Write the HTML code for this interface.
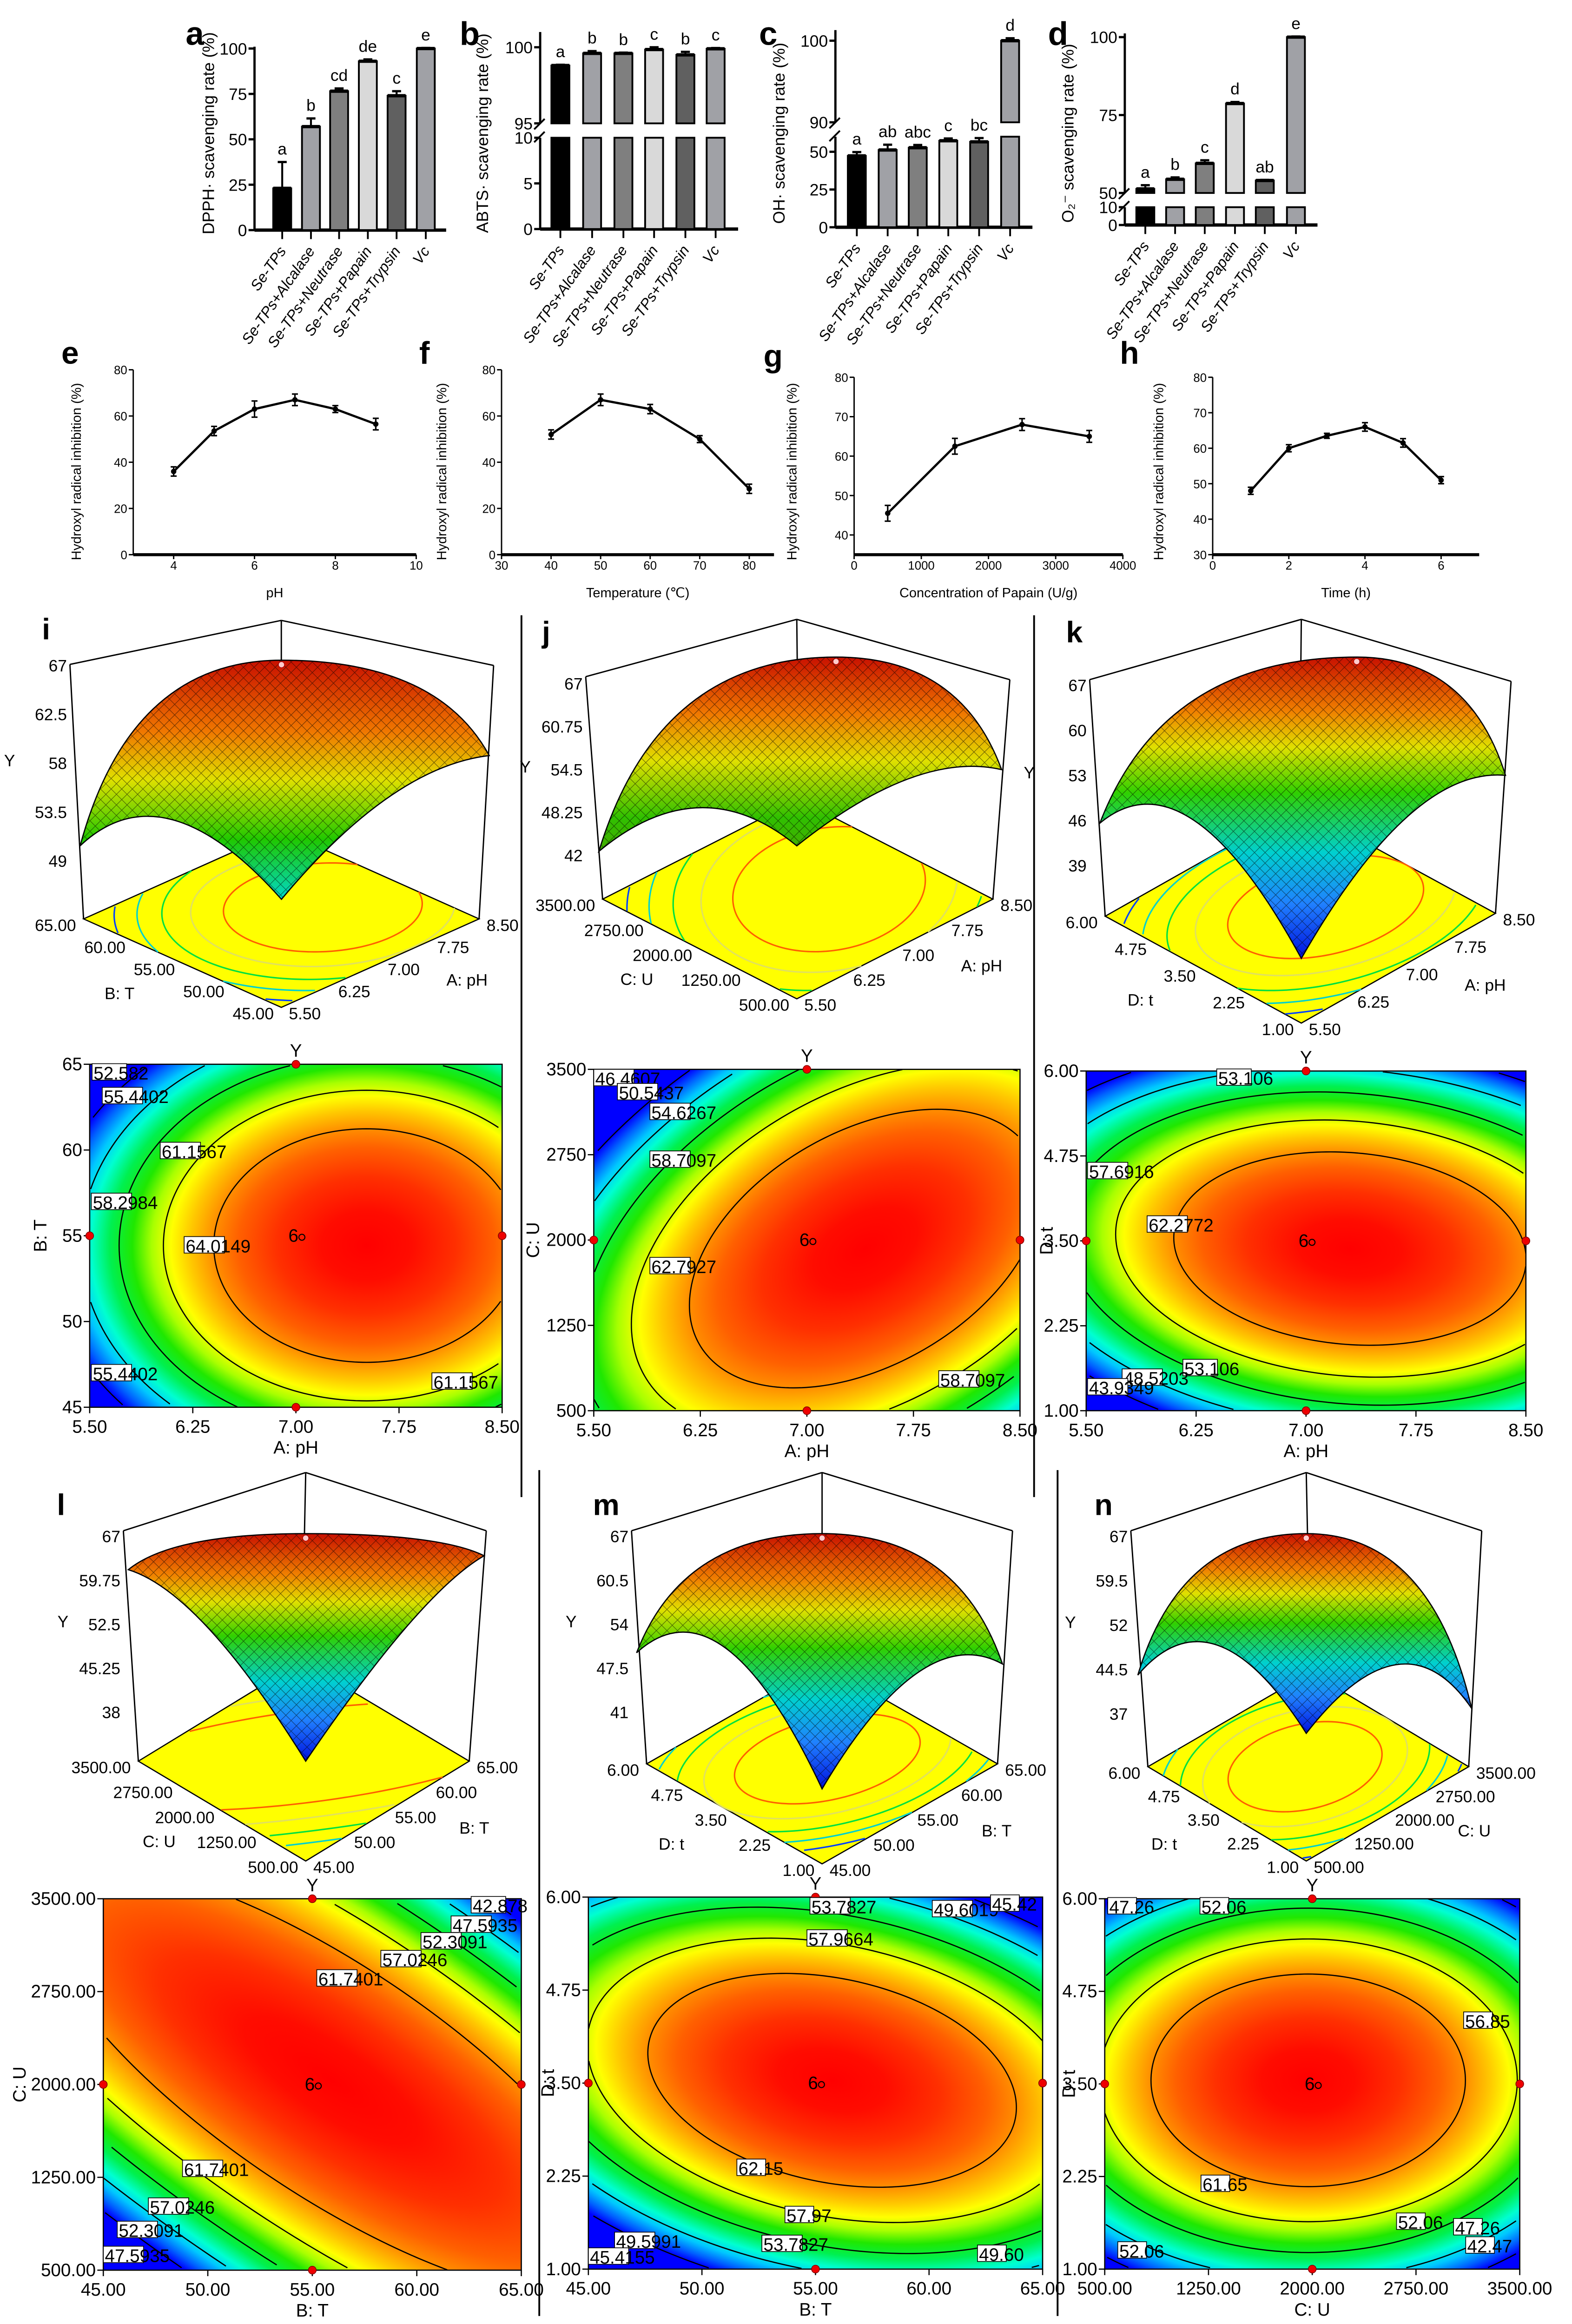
<!DOCTYPE html>
<html><head><meta charset="utf-8"><style>
html,body{margin:0;padding:0;background:#fff;overflow:hidden;width:3382px;height:5023px}
svg{display:block}
text{font-family:"Liberation Sans",sans-serif}
</style></head><body>
<svg id="fig" xmlns="http://www.w3.org/2000/svg" width="3382" height="5023" viewBox="0 0 1050 1559.5" preserveAspectRatio="none" overflow="hidden">
<defs>
<pattern id="mesh" width="5" height="5" patternUnits="userSpaceOnUse" patternTransform="rotate(45)"><path d="M0 0H5M0 0V5" stroke="#000" stroke-opacity="0.55" stroke-width="0.7" fill="none"/></pattern>
</defs>
</svg>
<script>
const barCategories=['Se-TPs','Se-TPs+Alcalase','Se-TPs+Neutrase','Se-TPs+Papain','Se-TPs+Trypsin','Vc'];
const dpphValues=[23,57,76.5,93,74,100];
const dpphErrors=[14.5,4.5,1.5,1,2.5,0.3];
const dpphLetters=['a','b','cd','de','c','e'];
const abtsValues=[98.8,99.6,99.6,99.85,99.5,99.9];
const abtsErrors=[0.05,0.15,0.05,0.15,0.2,0.05];
const abtsLetters=['a','b','b','c','b','c'];
const ohValues=[47.3,51.2,52.7,57.3,56.6,100];
const ohErrors=[2.5,3.5,1.8,1.5,2.5,0.3];
const ohLetters=['a','ab','abc','c','bc','d'];
const o2Values=[51.3,54.4,59.5,78.7,54,100];
const o2Errors=[1.2,0.6,1,0.5,0.2,0.2];
const o2Letters=['a','b','c','d','ab','e'];
const phX=[4,5,6,7,8,9];
const phY=[36,53.5,63,67,63,56.5];
const phErr=[2,2,3.5,2.5,1.5,2.5];
const tempX=[40,50,60,70,80];
const tempY=[52,67,63,50,28.5];
const tempErr=[2,2.5,2,1.5,2];
const papainX=[500,1500,2500,3500];
const papainY=[45.5,62.5,68,65];
const papainErr=[2,2,1.5,1.5];
const timeX=[1,2,3,4,5,6];
const timeY=[48,60,63.5,66,61.5,51];
const timeErr=[1,1,0.7,1.2,1.2,1];
const contourLabelsI=['52.582','55.4402','61.1567','58.2984','64.0149','55.4402','61.1567'];
const contourLabelsJ=['46.4607','50.5437','54.6267','58.7097','62.7927','58.7097'];
const contourLabelsK=['53.106','57.6916','62.2772','53.106','48.5203','43.9349'];
const contourLabelsL=['42.878','47.5935','52.3091','57.0246','61.7401','61.7401','57.0246','52.3091','47.5935'];
const contourLabelsM=['53.7827','49.6019','45.42','57.9664','62.15','57.97','53.7827','49.5991','45.4155','49.60'];
const contourLabelsN=['47.26','52.06','56.85','61.65','52.06','47.26','42.47','52.06'];

const NS='http://www.w3.org/2000/svg';
const svg=document.getElementById('fig');
function mk(tag,attrs,parent,txt){const e=document.createElementNS(NS,tag);for(const k in attrs)e.setAttribute(k,attrs[k]);if(txt!==undefined)e.textContent=txt;(parent||svg).appendChild(e);return e;}
function grp(name){const g=mk('g',{});


return g;}
function label(g,x,y,s,size,opts){const t=mk('text',Object.assign({x:x,y:y,'font-size':size,fill:'#000'},opts||{}),g,s);


return t;}
function line(g,x1,y1,x2,y2,w,c){const l=mk('line',{x1:x1,y1:y1,x2:x2,y2:y2,stroke:c||'#000','stroke-width':w||1},g);


return l;}
/* ellipse outline clipped to a box, returned as path data; map converts (x,y)->screen */
function clippedEllipse(cx,cy,rx,ry,rotDeg,bx0,by0,bx1,by1,map){
 const a=rotDeg*Math.PI/180,ca=Math.cos(a),sa=Math.sin(a);let d='',pen=false;
 for(let i=0;i<=240;i++){const t=i/240*2*Math.PI;const ex=rx*Math.cos(t),ey=ry*Math.sin(t);
  const x=cx+ex*ca-ey*sa,y=cy+ex*sa+ey*ca;
  if(x>=bx0&&x<=bx1&&y>=by0&&y<=by1){const q=map(x,y);d+=(pen?'L':'M')+q[0].toFixed(2)+' '+q[1].toFixed(2);pen=true;}else pen=false;}
 return d;}

/* ---------- bar charts ---------- */
const barColors=['#000','#a0a1a6','#7f7f7f','#d9d9d9','#606060','#a0a1a6'];
function barChart(p,vals,errs,letters){
 const g=grp(p.name);
 function yv(v){for(const s of p.segs){if(v>=s.v0&&v<=s.v1)return s.p0+(v-s.v0)*(s.p1-s.p0)/(s.v1-s.v0);}
  let best=p.segs[0];for(const s of p.segs){if(v>s.v1)best=s;}return best.p1;}
 for(const s of p.segs){line(g,p.ax,s.p0,p.ax,s.p1,1.5);
  for(const t of s.ticks){const y=yv(t);line(g,p.ax-4,y,p.ax,y,1.5);label(g,p.ax-5,y+4,String(t),11,{'text-anchor':'end'});}}
 if(p.segs.length>1){const yb=p.segs[0].p1,yt=p.segs[1].p0;
  line(g,p.ax-4,yb+3,p.ax+3,yb-4,1.2);line(g,p.ax-4,yt+4,p.ax+3,yt-3,1.2);}
 line(g,p.ax,p.segs[0].p0,p.xe,p.segs[0].p0,2.2);
 label(g,p.lx,p.ly,p.letter,22,{'font-weight':'bold'});
 const yt=label(g,p.tx,89,p.title,11,{'text-anchor':'middle',transform:`rotate(-90 ${p.tx} 89)`});
 
 vals.forEach((v,i)=>{const cx=p.cx[i];
  p.segs.forEach((s,si)=>{if(v>s.v0){const top=Math.min(v,s.v1);const y1=yv(top);const y0=s.p0;
   const r=mk('rect',{x:cx-6,y:y1,width:12,height:Math.max(0,y0-y1),fill:barColors[i],stroke:'#000','stroke-width':1.2},g);
   
   
   if(v<=s.v1)line(g,cx-6,y1,cx+6,y1,2.2);}});
  const ye=yv(v+errs[i]);line(g,cx,yv(v),cx,ye,1.3);line(g,cx-3,ye,cx+3,ye,1.5);
  label(g,cx,ye-5,letters[i],11,{'text-anchor':'middle'});
  const y0=p.segs[0].p0;line(g,cx,y0,cx,y0+6,1.2);
  label(g,cx+3,y0+14,barCategories[i],10,{'text-anchor':'end','font-style':'italic',transform:`rotate(-55 ${cx+3} ${y0+14})`});
 });
}
barChart({name:'panel-a-dpph',ax:170,xe:298,cx:[188.5,207.7,226.5,245.7,264.9,284.4],segs:[{v0:0,v1:101,p0:153.7,p1:31.2,ticks:[0,25,50,75,100]}],letter:'a',lx:124,ly:30,tx:143,title:'DPPH· scavenging rate (%)'},dpphValues,dpphErrors,dpphLetters);
barChart({name:'panel-b-abts',ax:360.8,xe:493,cx:[374.3,395.5,416.4,436.9,457.8,478],segs:[{v0:0,v1:10,p0:153,p1:92,ticks:[0,5,10]},{v0:95,v1:101,p0:82.4,p1:21.4,ticks:[95,100]}],letter:'b',lx:307,ly:30,tx:326,title:'ABTS· scavenging rate (%)'},abtsValues,abtsErrors,abtsLetters);
barChart({name:'panel-c-oh',ax:558,xe:689.6,cx:[572.3,592.9,613,633.4,654,674.7],segs:[{v0:0,v1:60,p0:151.8,p1:91.3,ticks:[0,25,50]},{v0:90,v1:101.3,p0:81.7,p1:20.1,ticks:[90,100]}],letter:'c',lx:507,ly:30,tx:524,title:'OH· scavenging rate (%)'},ohValues,ohErrors,ohLetters);
barChart({name:'panel-d-o2',ax:751.3,xe:880,cx:[765,784.9,804.7,824.9,844.8,865.6],segs:[{v0:0,v1:10,p0:150.3,p1:138.4,ticks:[0,10]},{v0:50,v1:101.2,p0:128.9,p1:22.3,ticks:[50,75,100]}],letter:'d',lx:700,ly:30,tx:717,title:'O₂⁻ scavenging rate (%)'},o2Values,o2Errors,o2Letters);

/* ---------- line charts ---------- */
function lineChart(p,xs,ys,es){
 const g=grp(p.name);
 const X=v=>p.x0+(v-p.xmin)*(p.x1-p.x0)/(p.xmax-p.xmin);
 const Y=v=>p.y0+(v-p.ymin)*(p.y1-p.y0)/(p.ymax-p.ymin);
 line(g,p.x0,p.y0,p.x0,p.y1,0.9);line(g,p.x0,p.y0,p.x1,p.y0,2);
 for(const t of p.yt){const y=Y(t);line(g,p.x0-3,y,p.x0,y,0.9);label(g,p.x0-4,y+3,String(t),8,{'text-anchor':'end'});}
 for(const t of p.xt){const x=X(t);line(g,x,p.y0,x,p.y0+3,0.9);label(g,x,380.5,String(t),8,{'text-anchor':'middle'});}
 const xt=label(g,(p.x0+p.x1)/2,399,p.xtitle,9,{'text-anchor':'middle'});
 
 const yt=label(g,p.tx,315,'Hydroxyl  radical  inhibition (%)',9,{'text-anchor':'middle',transform:`rotate(-90 ${p.tx} 315)`});
 
 label(g,p.lx,p.ly,p.letter,21,{'font-weight':'bold'});
 const pl=mk('polyline',{points:xs.map((x,i)=>X(x)+','+Y(ys[i])).join(' '),fill:'none',stroke:'#000','stroke-width':1.5},g);
 
 
 xs.forEach((x,i)=>{const cx=X(x),a=Y(ys[i]+es[i]),b=Y(ys[i]-es[i]);line(g,cx,a,cx,b,1);line(g,cx-2,a,cx+2,a,1);line(g,cx-2,b,cx+2,b,1);
  const c=mk('circle',{cx:cx,cy:Y(ys[i]),r:1.8,fill:'#000'},g);
  
  });
}
lineChart({name:'panel-e-ph',x0:89,x1:278,xmin:3,xmax:10,y0:370.5,y1:247,ymin:0,ymax:80,yt:[0,20,40,60,80],xt:[4,6,8,10],xtitle:'pH',tx:54,lx:41,ly:243,letter:'e'},phX,phY,phErr);
lineChart({name:'panel-f-temperature',x0:335,x1:517,xmin:30,xmax:85,y0:370.5,y1:247,ymin:0,ymax:80,yt:[0,20,40,60,80],xt:[30,40,50,60,70,80],xtitle:'Temperature (℃)',tx:298,lx:280,ly:243,letter:'f'},tempX,tempY,tempErr);
lineChart({name:'panel-g-papain',x0:570.5,x1:750,xmin:0,xmax:4000,y0:370.5,y1:252,ymin:35,ymax:80,yt:[40,50,60,70,80],xt:[0,1000,2000,3000,4000],xtitle:'Concentration of Papain (U/g)',tx:532,lx:510,ly:245,letter:'g'},papainX,papainY,papainErr);
lineChart({name:'panel-h-time',x0:810,x1:988,xmin:0,xmax:7,y0:370.5,y1:252,ymin:30,ymax:80,yt:[30,40,50,60,70,80],xt:[0,2,4,6],xtitle:'Time (h)',tx:777,lx:748,ly:243,letter:'h'},timeX,timeY,timeErr);

/* ---------- separators ---------- */
{const g=grp('panel-separators');line(g,348.3,411,348.3,1000,1.2);line(g,690.7,411,690.7,1000,1.2);line(g,360.2,982,360.2,1547,1.2);line(g,706.4,982,706.4,1547,1.2);}

/* ---------- contour plots ---------- */
let gid=0;
const heatStops=[['0','#ff0000'],['0.14','#ff0c00'],['0.28','#ff3000'],['0.4','#ff6000'],['0.48','#ff9000'],['0.55','#ffc800'],['0.61','#ffff00'],['0.67','#a8ff00'],['0.73','#20e800'],['0.8','#00f050'],['0.86','#00ffd0'],['0.91','#00c8ff'],['0.96','#0060ff'],['1','#0000ff']];
function contour(p,labelsVals){
 const g=grp(p.name);gid++;
 const w=p.x1-p.x0,h=p.y1-p.y0;
 const defs=svg.querySelector('defs');
 const rg=mk('radialGradient',{id:'rg'+gid,gradientUnits:'userSpaceOnUse',cx:0,cy:0,r:1,fx:0,fy:0,
  gradientTransform:`translate(${p.cx} ${p.cy}) rotate(${p.rot}) scale(${p.rx*2.1} ${p.ry*2.1})`},defs);
 heatStops.forEach(s=>mk('stop',{offset:s[0],'stop-color':s[1]},rg));
 const hm=mk('rect',{x:p.x0,y:p.y0,width:w,height:h,fill:`url(#rg${gid})`},g);
 
 
 [1,1.33,1.62,1.87,2.1].forEach(m=>{const d=clippedEllipse(p.cx,p.cy,p.rx*m,p.ry*m,p.rot,p.x0,p.y0,p.x1,p.y1,(x,y)=>[x,y]);
  if(!d)return;
  const e=mk('path',{d:d,fill:'none',stroke:'#000','stroke-width':0.8},g);
  
  });
 const fr=mk('rect',{x:p.x0,y:p.y0,width:w,height:h,fill:'none',stroke:'#000','stroke-width':0.8},g);
 
 
 p.xt.forEach((t,i)=>{const x=p.x0+w*i/(p.xt.length-1);line(g,x,p.y1,x,p.y1+4,0.8);label(g,x,p.y1+17,t,12,{'text-anchor':'middle'});});
 p.yt.forEach((t,i)=>{const y=p.y1-h*i/(p.yt.length-1);line(g,p.x0-4,y,p.x0,y,0.8);label(g,p.x0-5,y+4,t,12,{'text-anchor':'end'});});
 const xn=label(g,(p.x0+p.x1)/2,p.y1+31,p.xn,12,{'text-anchor':'middle'});
 
 const yx=p.ynx,yy=(p.y0+p.y1)/2;
 const yn=label(g,yx,yy,p.yn,12,{'text-anchor':'middle',transform:`rotate(-90 ${yx} ${yy})`});
 
 label(g,(p.x0+p.x1)/2,p.y0-5,'Y',12,{'text-anchor':'middle'});
 [[(p.x0+p.x1)/2,p.y0],[(p.x0+p.x1)/2,p.y1],[p.x0,(p.y0+p.y1)/2],[p.x1,(p.y0+p.y1)/2]].forEach(d=>{const c=mk('circle',{cx:d[0],cy:d[1],r:2.6,fill:'#e00',stroke:'#800','stroke-width':0.5},g);
  
  });
 const cc=(p.x0+p.x1)/2,cy=(p.y0+p.y1)/2;
 label(g,cc-5,cy+4,'6',12,{});
 mk('circle',{cx:cc+4,cy:cy+1,r:2,fill:'none',stroke:'#000','stroke-width':0.7},g);
 p.lp.forEach((pt,i)=>{const s=labelsVals[i];const bw=s.length*6.2;
  const r=mk('rect',{x:pt[0],y:pt[1]-6,width:bw*0.62,height:11,fill:'#fff',stroke:'#000','stroke-width':0.5},g);
  
  
  label(g,pt[0]+1,pt[1]+4.5,s,12,{});});
}
const tPH=['5.50','6.25','7.00','7.75','8.50'],tT=['45.00','50.00','55.00','60.00','65.00'],tU=['500.00','1250.00','2000.00','2750.00','3500.00'],tD=['1.00','2.25','3.50','4.75','6.00'];
contour({name:'panel-i-contour',x0:59.9,x1:335.4,y0:710.9,y1:940,cx:244.8,cy:832,rx:102,ry:78,rot:0,xt:tPH,yt:['45','50','55','60','65'],xn:'A: pH',yn:'B: T',ynx:31,
 lp:[[61.5,716.5],[68.3,732.3],[107,769],[61,803],[123,832],[61,917.4],[288.5,923]]},contourLabelsI);
contour({name:'panel-j-contour',x0:396.6,x1:681.3,y0:714.3,y1:942.3,cx:578,cy:834,rx:128,ry:78,rot:-30,xt:tPH,yt:['500','1250','2000','2750','3500'],xn:'A: pH',yn:'C: U',ynx:360,
 lp:[[396.6,720.3],[412.4,729.7],[434.1,742.9],[434.1,774.8],[434.1,845.9],[627,921.6]]},contourLabelsJ);
contour({name:'panel-k-contour',x0:725.5,x1:1019.2,y0:715.4,y1:942.3,cx:901.7,cy:834,rx:118,ry:64,rot:5,xt:tPH,yt:tD,xn:'A: pH',yn:'D: t',ynx:703,
 lp:[[812.7,720],[726.4,782.4],[766.2,818.1],[790.1,914],[749.5,920.4],[726.4,926.8]]},contourLabelsK);
contour({name:'panel-l-contour',x0:69,x1:348.2,y0:1268.3,y1:1516.4,cx:221,cy:1389.6,rx:230,ry:76,rot:34,xt:tT,yt:tU,xn:'B: T',yn:'C: U',ynx:17,
 lp:[[314.7,1272.8],[301.3,1285.8],[281.2,1296.9],[254.4,1308.8],[211.6,1321.7],[121.9,1448.9],[99.1,1474.1],[78.3,1489.7],[69,1506.4]]},contourLabelsL);
contour({name:'panel-m-contour',x0:393,x1:696.4,y0:1267.2,y1:1515.7,cx:555.8,cy:1389.6,rx:125,ry:68,rot:12,xt:tT,yt:tD,xn:'B: T',yn:'D: t',ynx:370,
 lp:[[541,1273.5],[622.7,1275.4],[661.6,1271.7],[539,1295],[492.2,1448.2],[524.3,1479.7],[508.9,1499],[410.5,1497],[393,1507.5],[652.9,1505.6]]},contourLabelsM);
contour({name:'panel-n-contour',x0:737.9,x1:1015.1,y0:1268.3,y1:1515.7,cx:873.8,cy:1389.6,rx:105,ry:71,rot:0,xt:tU,yt:tD,xn:'C: U',yn:'D: t',ynx:718,
 lp:[[739.9,1273.5],[801.5,1273.5],[977.6,1349.9],[802.2,1458.9],[932.8,1484.2],[970.9,1487.9],[979,1500.1],[746.6,1503.4]]},contourLabelsN);

/* ---------- 3D surfaces ---------- */
function surf(p){
 const g=grp(p.name);gid++;
 const L=p.L,F=p.F,R=p.R,B=[L[0]+R[0]-F[0],L[1]+R[1]-F[1]];
 line(g,p.tL[0],p.tL[1],p.tB[0],p.tB[1],0.9);line(g,p.tB[0],p.tB[1],p.tR[0],p.tR[1],0.9);
 line(g,B[0],B[1],p.tB[0],p.tB[1],0.9);line(g,L[0],L[1],p.tL[0],p.tL[1],0.9);line(g,R[0],R[1],p.tR[0],p.tR[1],0.9);
 const fl=mk('polygon',{points:[L,F,R,B].map(q=>q.join(',')).join(' '),fill:'#ffff00',stroke:'#000','stroke-width':0.8},g);
 
 
 const map=(u,v)=>[F[0]+u*(R[0]-F[0])+v*(L[0]-F[0]),F[1]+u*(R[1]-F[1])+v*(L[1]-F[1])];
 ['#ff6000','#e0e060','#00e040','#00d0d0','#0040ff'].forEach((c,i)=>{const m=[1,1.33,1.62,1.87,2.1][i];
  const d=clippedEllipse(p.fe[0],p.fe[1],p.fe[2]*m,p.fe[3]*m,p.fe[4],0,0,1,1,map);
  if(!d)return;
  const e=mk('path',{d:d,fill:'none',stroke:c,'stroke-width':1},g);
  
  });
 const defs=svg.querySelector('defs');
 const lg=mk('linearGradient',{id:'sg'+gid,gradientUnits:'userSpaceOnUse',x1:0,x2:0,y1:p.peak[1],y2:p.tip[1]},defs);
 p.stops.forEach(s=>mk('stop',{offset:s[0],'stop-color':s[1]},lg));
 const c1=[p.left[0]+0.25*(p.peak[0]-p.left[0]),p.peak[1]],c2=[p.right[0]-0.25*(p.right[0]-p.peak[0]),p.peak[1]];
 const d=`M${p.left} Q${c1} ${p.peak} Q${c2} ${p.right} Q${p.q1} ${p.tip} Q${p.q2} ${p.left} Z`;
 const s1=mk('path',{d:d,fill:`url(#sg${gid})`,stroke:'#000','stroke-width':0.8},g);
 
 
 const s2=mk('path',{d:d,fill:'url(#mesh)'},g);
 
 
 const pk=mk('circle',{cx:p.peak[0],cy:p.peak[1]+3,r:2,fill:'#fcc',stroke:'#a00','stroke-width':0.4},g);
 
 
 p.yt.forEach((t,i)=>{const y=p.yy[0]+(p.yy[1]-p.yy[0])*i/(p.yt.length-1);label(g,p.tL[0]-2,y+4,t,11,{'text-anchor':'end'});});
 label(g,p.tL[0]-44,(p.yy[0]+p.yy[1])/2+2,'Y',11,{});
 p.lt.forEach((t,i)=>{const f=i/(p.lt.length-1);const x=L[0]+(F[0]-L[0])*f,y=L[1]+(F[1]-L[1])*f;label(g,x-5,y+8,t,11,{'text-anchor':'end'});});
 p.rt.forEach((t,i)=>{const f=i/(p.rt.length-1);const x=F[0]+(R[0]-F[0])*f,y=F[1]+(R[1]-F[1])*f;label(g,x+5,y+8,t,11,{});});
 label(g,(L[0]+F[0])/2-42,(L[1]+F[1])/2+24,p.ln,11,{'text-anchor':'middle'});
 label(g,(F[0]+R[0])/2+58,(F[1]+R[1])/2+15,p.rn,11,{'text-anchor':'middle'});
 label(g,p.letter[1],p.letter[2],p.letter[0],20,{'font-weight':'bold'});
}
const stWarm=[['0','#c81000'],['0.3','#f07800'],['0.5','#e0e000'],['0.75','#20c800'],['1','#00d8c8']];
const stCool=[['0','#c81000'],['0.18','#f08000'],['0.3','#e0e000'],['0.45','#30d000'],['0.65','#00d0d0'],['0.82','#2080ff'],['1','#0010e0']];
surf({name:'panel-i-surface',L:[55.8,613.8],F:[187.9,672.9],R:[320,613.8],tL:[46.7,443.8],tB:[187.9,414.4],tR:[329.7,444.5],
 left:[53.5,565],peak:[188,441],right:[326.8,504.7],tip:[188,600.7],q1:[261.9,512.2],q2:[109.3,512.2],stops:stWarm,
 yt:['67','62.5','58','53.5','49'],yy:[444.5,575],lt:['65.00','60.00','55.00','50.00','45.00'],rt:tPH,ln:'B: T',rn:'A: pH',fe:[0.67,0.46,0.37,0.34,0],letter:['i',28,427]});
surf({name:'panel-j-surface',L:[402.5,600.6],F:[532.2,667.2],R:[663.2,600.6],tL:[391.2,452],tB:[532.2,413.7],tR:[674.5,454],
 left:[400,568.7],peak:[558.4,438.9],right:[669,514.1],tip:[532.2,565],q1:[612.6,501],q2:[468,512.2],stops:[['0','#c81000'],['0.3','#f07800'],['0.55','#e0e000'],['0.85','#30c000'],['1','#40b000']],
 yt:['67','60.75','54.5','48.25','42'],yy:[456.6,571.3],lt:['3500.00','2750.00','2000.00','1250.00','500.00'],rt:tPH,ln:'C: U',rn:'A: pH',fe:[0.63,0.47,0.45,0.34,30],letter:['j',362,429]});
surf({name:'panel-k-surface',L:[738.2,612],F:[869.2,683.4],R:[998.9,610.1],tL:[727.8,454],tB:[869.2,413.7],tR:[1009.3,455.1],
 left:[734.6,549.9],peak:[906.2,438.9],right:[1005.6,517.9],tip:[869.2,640.2],q1:[942.4,512.2],q2:[793.3,501],stops:stCool,
 yt:['67','60','53','46','39'],yy:[457.7,578.1],lt:tD.slice().reverse(),rt:tPH,ln:'D: t',rn:'A: pH',fe:[0.6,0.47,0.4,0.28,-5],letter:['k',712,429]});
surf({name:'panel-l-surface',L:[92.4,1176.4],F:[204.2,1243.1],R:[313.4,1176.4],tL:[82.4,1022.5],tB:[204.2,983.6],tR:[324.8,1022.5],
 left:[85.7,1048.5],peak:[204.2,1024.4],right:[323.4,1039.2],tip:[204.2,1176.4],q1:[281.2,1063.3],q2:[133.9,1063.3],stops:stCool,
 yt:['67','59.75','52.5','45.25','38'],yy:[1026.2,1143.7],lt:tU.slice().reverse(),rt:tT,ln:'C: U',rn:'B: T',fe:[0.54,0.51,1.0,0.32,-32],letter:['l',38,1012]});
surf({name:'panel-m-surface',L:[431.9,1178.2],F:[549.1,1245],R:[666.3,1178.2],tL:[421.8,1022.5],tB:[549.1,983.6],tR:[676.3,1022.5],
 left:[425.2,1104],peak:[549.1,1024.4],right:[669.6,1111.5],tip:[549.1,1194.9],q1:[616,1081.8],q2:[482.1,1052.2],stops:stCool,
 yt:['67','60.5','54','47.5','41'],yy:[1026.2,1143.7],lt:tD.slice().reverse(),rt:tT,ln:'D: t',rn:'B: T',fe:[0.54,0.51,0.41,0.27,-12],letter:['m',396,1012]});
surf({name:'panel-n-surface',L:[766.7,1180.1],F:[872.5,1243.1],R:[981,1180.1],tL:[755.3,1022.5],tB:[872.5,983.6],tR:[989.7,1022.5],
 left:[760,1118.9],peak:[872.5,1024.4],right:[983,1141.2],tip:[872.5,1157.8],q1:[937.4,1074.4],q2:[810.2,1059.6],stops:stCool,
 yt:['67','59.5','52','44.5','37'],yy:[1026.2,1144.8],lt:tD.slice().reverse(),rt:tU,ln:'D: t',rn:'C: U',fe:[0.49,0.51,0.38,0.29,0],letter:['n',731,1012]});
</script>
</body></html>
